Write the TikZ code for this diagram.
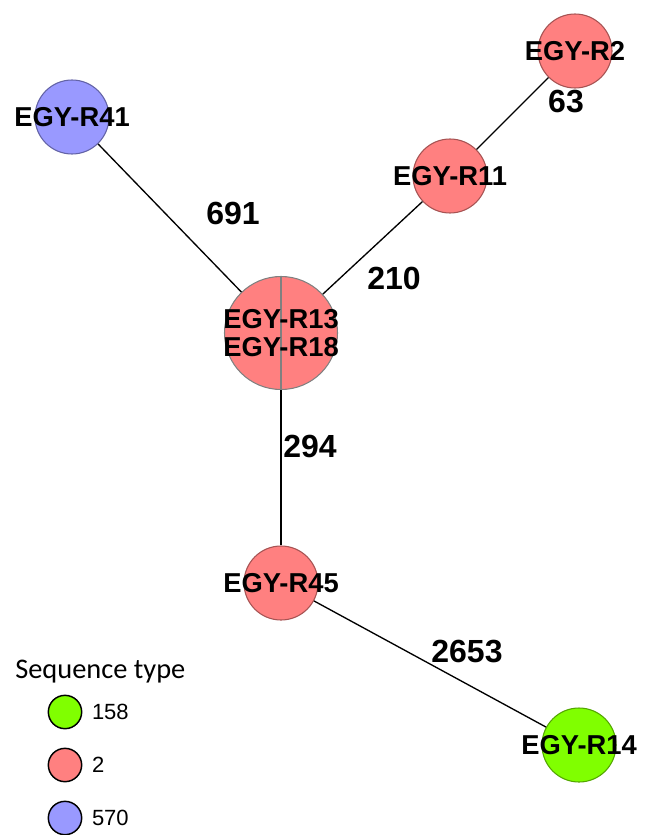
\documentclass[tikz,border=0pt]{standalone}
\usepackage{fontspec}
\setmainfont{Liberation Sans}
\newfontfamily\legendfont{Carlito}
\usepackage{tikz}
\usepackage{xcolor}
\usetikzlibrary{positioning}
\definecolor{stred}{HTML}{FF8080}
\definecolor{stgreen}{HTML}{80FF00}
\definecolor{stblue}{HTML}{9999FF}
\tikzset{%
  isolate/.style={circle,draw=#1!65!black,fill=#1,minimum size=55.5pt,inner sep=0pt,line width=0.8pt},
  isolatename/.style={font=\fontsize{20.5pt}{21pt}\selectfont\bfseries,inner sep=0pt,align=center},
  link/.style={line width=1pt},
  weight/.style={font=\fontsize{24pt}{26pt}\selectfont\bfseries,inner sep=0pt},
  key/.style={circle,draw=black,fill=#1,minimum size=25pt,inner sep=0pt,line width=1.1pt},
  keytext/.style={font=\fontsize{16.5pt}{18pt}\selectfont,inner sep=0pt,anchor=west},
}

\begin{document}
\begin{tikzpicture}[x=0.75pt,y=-0.75pt]
      \useasboundingbox (0,0) rectangle (650,835);

      % isolates
      \node[isolate=stblue] (r41) at (72,117) {};
      \node[isolate=stred] (r2) at (575,51) {};
      \node[isolate=stred] (r11) at (450,176) {};
      \node[isolate=stred,draw=gray,minimum size=84.75pt] (r13) at (281,333) {};
      \node[isolate=stred] (r45) at (281,583) {};
      \node[isolate=stgreen] (r14) at (579,745) {};
      \draw[gray,line width=0.8pt] (r13.north) -- (r13.south);

      \node[isolatename] (r41name) at (r41) {EGY-R41};
      \node[isolatename] (r2name) at (r2) {EGY-R2};
      \node[isolatename] (r11name) at (r11) {EGY-R11};
      \node[isolatename] (r13name) at (r13) {EGY-R13\\EGY-R18};
      \node[isolatename] (r45name) at (r45) {EGY-R45};
      \node[isolatename] (r14name) at (r14) {EGY-R14};

      % links
      \draw[link] (r41) -- (r13);
      \draw[link] (r13) -- (r11);
      \draw[link] (r11) -- (r2);
      \draw[link] (r13) -- (r45);
      \draw[link] (r45) -- (r14);

      \node[weight] (w691) at (233,213) {691};
      \node[weight] (w210) at (394,278) {210};
      \node[weight] (w63) at (566,102) {63};
      \node[weight] (w294) at (310,446) {294};
      \node[weight] (w2653) at (467,651) {2653};

      % legend
      \node[anchor=west,inner sep=0pt,font=\legendfont\fontsize{21.3pt}{24pt}\selectfont] (legtitle) at (15,672) {Sequence type};
      \node[key=stgreen] (k158) at (65,712) {};
      \node[key=stred] (k2) at (65,765) {};
      \node[key=stblue] (k570) at (65,818) {};
      \node[keytext,right=7pt of k158] (k158text) {158};
      \node[keytext,right=7pt of k2] (k2text) {2};
      \node[keytext,right=7pt of k570] (k570text) {570};
    \end{tikzpicture}
\end{document}
